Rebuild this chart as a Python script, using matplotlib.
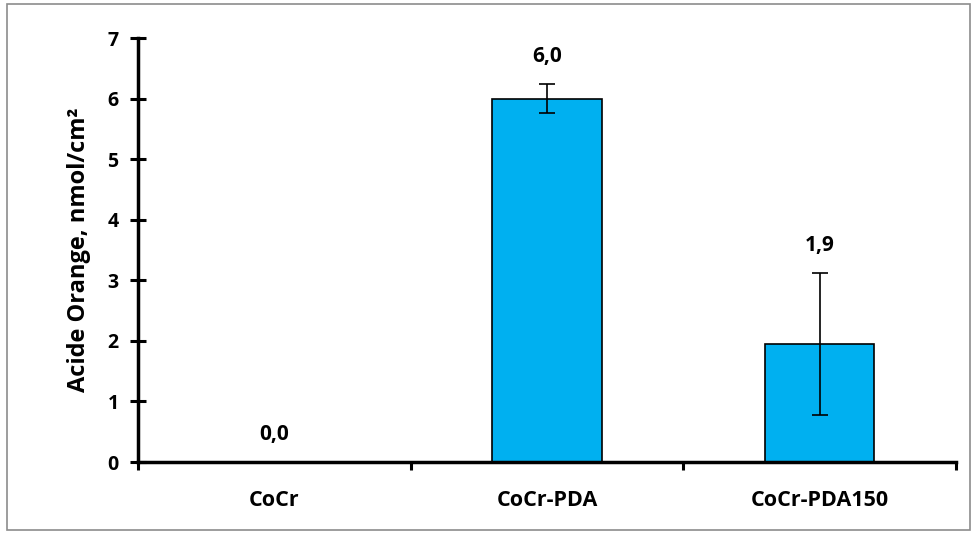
import matplotlib
matplotlib.use("Agg")
import matplotlib.pyplot as plt
from matplotlib.patches import Rectangle
import numpy as np

categories = ["CoCr", "CoCr-PDA", "CoCr-PDA150"]
values = [0.0, 6.0, 1.95]
errors = [0.0, 0.24, 1.17]
labels = ["0,0", "6,0", "1,9"]
yticks = [0, 1, 2, 3, 4, 5, 6, 7]

plt.rcParams['font.family'] = ['Open Sans', 'DejaVu Sans']
plt.rcParams['font.weight'] = 'bold'

fig = plt.figure(figsize=(9.77, 5.34), dpi=100)
fig.patches.append(Rectangle((7/977, 4/534), 963/977, 526/534, transform=fig.transFigure,
                             fill=False, edgecolor='#8c8c8c', linewidth=1.2))
ax = fig.add_axes([138/977, 1-462/534, (956-138)/977, (462-38)/534])

x = np.arange(len(categories))
ax.bar(x, values, width=0.4, color='#00B0F0', edgecolor='black', linewidth=1.2, zorder=2)
for xi, v, e in zip(x, values, errors):
    if e > 0:
        ax.errorbar(xi, v, yerr=e, fmt='none', ecolor='black', elinewidth=1.2,
                    capsize=6, capthick=1.2, zorder=3)
for xi, v, e, lab in zip(x, values, errors, labels):
    ax.annotate(lab, (xi, v + e), xytext=(0, 12), textcoords='offset points',
                ha='center', va='bottom', fontsize=15, fontweight='bold')

ax.set_xlim(-0.5, 2.5)
ax.set_ylim(0, 7)
ax.set_yticks(yticks)
ax.set_yticklabels([str(t) for t in yticks], fontsize=14, fontweight='bold')
ax.set_xticks(x)
ax.set_xticklabels(categories, fontsize=15.5, fontweight='bold')
ax.set_xticks([-0.5, 0.5, 1.5, 2.5], minor=True)
ax.tick_params(axis='x', which='major', length=0, pad=20)
ax.tick_params(axis='x', which='minor', direction='out', length=6, width=2.2)
ax.tick_params(axis='y', which='major', direction='inout', length=12, width=2.2, pad=8)
for s in ['top', 'right']:
    ax.spines[s].set_visible(False)
for s in ['left', 'bottom']:
    ax.spines[s].set_linewidth(2.5)
ax.set_ylabel("Acide Orange, nmol/cm²", fontsize=17, fontweight='bold', labelpad=12)

fig.savefig("out.png", dpi=100)
